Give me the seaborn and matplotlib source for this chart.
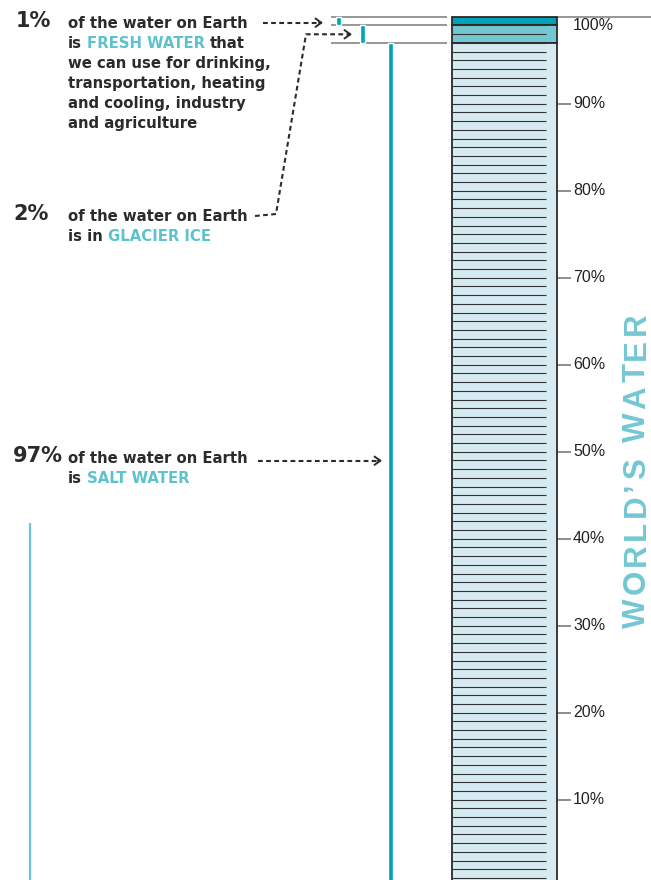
import numpy as np
import matplotlib
matplotlib.use("Agg")
import matplotlib.pyplot as plt
import matplotlib.transforms as mtransforms
from matplotlib import font_manager
from matplotlib.ft2font import FT2Font
import seaborn as sns

# Share of the world's water, top of the column first (percent)
categories = ["FRESH WATER", "GLACIER ICE", "SALT WATER"]
shares = [1, 2, 97]
share_labels = ["1%", "2%", "97%"]
tick_values = [10, 20, 30, 40, 50, 60, 70, 80, 90, 100]
tick_labels = ["10%", "20%", "30%", "40%", "50%", "60%", "70%", "80%", "90%", "100%"]
title = "WORLD\u2019S WATER"

DARK_TEAL = "#00a3b5"
MID_TEAL = "#72c7d1"
PALE_BLUE = "#d5ebf1"
TEXT_TEAL = "#5cc2ce"
TITLE_TEAL = "#74c8d3"
INK = "#2b2b2b"

sns.set_theme(style="white")
plt.rcParams["font.family"] = ["DejaVu Sans"]

fig = plt.figure(figsize=(6.51, 8.80), dpi=100)
ax = fig.add_axes([0, 0, 1, 1])
ax.set_xlim(0, 651)
ax.set_ylim(0.77, 101.92)
ax.axis("off")

# pixel transform (x from left, y from top) for annotation layout
px = mtransforms.Affine2D().scale(1, -1).translate(0, 880)

# stacked from the top down: 100 -> 99 -> 97 -> 0
shares_arr = np.array(shares)
tops = 100 - np.concatenate([[0], np.cumsum(shares_arr)[:-1]])
bottoms = tops - shares_arr
seg_colors = [DARK_TEAL, MID_TEAL, PALE_BLUE]

# main column
col_x, col_w = 504.5, 104.4
ax.bar([col_x] * 3, shares_arr, bottom=bottoms, width=col_w, color=seg_colors,
       edgecolor="#2a2a2a", linewidth=1.3, zorder=2)
# 1% rules inside the column
ax.hlines(np.arange(1, 100), col_x - col_w / 2, col_x + col_w / 2 - 10.5,
          color="#333333", lw=0.8, zorder=3)

# ticks on the right
right = col_x + col_w / 2
for v, lab in zip(tick_values, tick_labels):
    if v == 100:
        ax.hlines(v, right, 651, color="#7a7a7a", lw=1.1, zorder=1)
        ax.text(573, v - 1, lab, va="center", ha="left", fontsize=11.5,
                family="Liberation Sans", color="#222222")
    else:
        ax.hlines(v, right, 571, color="#6f6f6f", lw=1.1, zorder=1)
        ax.text(573, v, lab, va="center", ha="left", fontsize=11.5,
                family="Liberation Sans", color="#222222")

# waterfall of thin bars on the left of the column
thin_x = [338.5, 362.7, 390.5]
ax.hlines(tops, 330.5, 447, color="#7a7a7a", lw=1.1, zorder=1)
ax.bar(thin_x, shares_arr, bottom=bottoms, width=5.3, color=DARK_TEAL, zorder=2)

# decorative line bottom left
ax.plot([30, 30], [523, 880], color="#6ac5cf", lw=1.6, transform=px,
        solid_capstyle="butt")

# text blocks
BODY = 10.7
renderer = fig.canvas.get_renderer()


def text_width(s, size):
    t = ax.text(0, 0, s, fontsize=size, fontweight="bold", transform=px)
    w = t.get_window_extent(renderer).width
    t.remove()
    return w


gap = text_width("a a", BODY) - text_width("aa", BODY)


def draw_line(x, y, pieces):
    for s, c in pieces:
        ax.text(x, y, s, fontsize=BODY, fontweight="bold", color=c,
                va="baseline", ha="left", transform=px)
        x += text_width(s, BODY) + gap


blocks = [
    (share_labels[0], 15.5, 26.7, 28.3, [
        [("of the water on Earth", INK)],
        [("is", INK), (categories[0], TEXT_TEAL), ("that", INK)],
        [("we can use for drinking,", INK)],
        [("transportation, heating", INK)],
        [("and cooling, industry", INK)],
        [("and agriculture", INK)],
    ]),
    (share_labels[1], 13, 220.2, 220.7, [
        [("of the water on Earth", INK)],
        [("is in", INK), (categories[1], TEXT_TEAL)],
    ]),
    (share_labels[2], 13, 461.7, 463, [
        [("of the water on Earth", INK)],
        [("is", INK), (categories[2], TEXT_TEAL)],
    ]),
]

for big, bx, by, y0, lines in blocks:
    ax.text(bx, by, big, fontsize=15, fontweight="bold", color=INK,
            va="baseline", ha="left", transform=px)
    for i, pieces in enumerate(lines):
        draw_line(68, y0 + 20 * i, pieces)

# dashed arrows
dash = (0, (2.3, 1.6))
arrow_paths = [
    [(263, 22.7), (321, 22.7)],
    [(255, 216), (276, 214), (306, 34.3), (350, 34.3)],
    [(258, 460.7), (380, 460.7)],
]
for path in arrow_paths:
    xs, ys = zip(*path)
    ax.plot(xs, ys, color=INK, lw=1.5, linestyle=dash, transform=px)
    ex, ey = path[-1]
    ax.annotate("", xy=(ex + 2, ey), xytext=(ex - 2, ey), xycoords=px,
                textcoords=px,
                arrowprops=dict(arrowstyle="->,head_length=0.35,head_width=0.25",
                                color=INK, lw=1.4, shrinkA=0, shrinkB=0))

# vertical title, letter-spaced, reading upwards
TITLE_SIZE = 22.5
TRACK = 3.7
title_font = FT2Font(font_manager.findfont(
    font_manager.FontProperties(family="Liberation Sans", weight="bold")))
title_font.set_size(TITLE_SIZE, 100)
advances = []
for ch in title:
    g = title_font.load_char(ord(ch))
    advances.append(g.linearHoriAdvance / 65536)
total = sum(advances) + TRACK * (len(title) - 1)
ty = 470 + total / 2
for ch, adv in zip(title, advances):
    ax.text(645, ty, ch, rotation=90, rotation_mode="anchor", ha="left",
            va="baseline", fontsize=TITLE_SIZE, fontweight="bold",
            family="Liberation Sans", color=TITLE_TEAL, transform=px)
    ty -= adv + TRACK

fig.savefig("out.png", dpi=100)
